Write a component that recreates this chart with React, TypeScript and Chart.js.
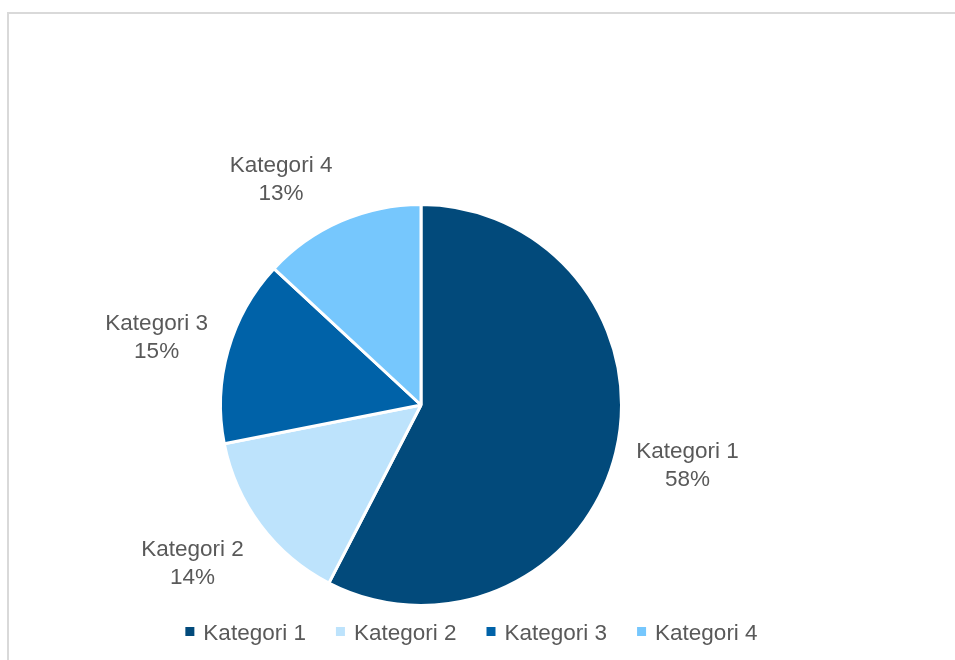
import React, { useEffect, useRef } from "react";
import { Chart, registerables } from "chart.js";

Chart.register(...registerables);

const categories = ["Kategori 1", "Kategori 2", "Kategori 3", "Kategori 4"];
const values = [57.6, 14.3, 15.0, 13.1];
const colors = ["#024a7b", "#bde3fc", "#0062a8", "#76c7fd"];

const FONT = '"Liberation Sans", Arial, Helvetica, sans-serif';
const TEXT = "#595959";
const W = 955;
const H = 660;

const framePlugin = {
  id: "frame",
  beforeDraw(chart: any) {
    const ctx = chart.ctx;
    ctx.save();
    ctx.fillStyle = "#ffffff";
    ctx.fillRect(0, 0, chart.width, chart.height);
    ctx.fillStyle = "#d9d9d9";
    ctx.fillRect(7, 12, chart.width - 7, 2);
    ctx.fillRect(7, 12, 2, chart.height - 12);
    ctx.restore();
  },
};

const labelPlugin = {
  id: "pieLabels",
  afterDatasetsDraw(chart: any) {
    const ctx = chart.ctx;
    const meta = chart.getDatasetMeta(0);
    const data: number[] = chart.data.datasets[0].data;
    const total = data.reduce((a, b) => a + b, 0);
    ctx.save();
    ctx.font = `22.5px ${FONT}`;
    ctx.fillStyle = TEXT;
    ctx.textAlign = "center";
    ctx.textBaseline = "alphabetic";
    meta.data.forEach((arc: any, i: number) => {
      const p = arc.getProps(["x", "y", "startAngle", "endAngle", "outerRadius"], true);
      const mid = (p.startAngle + p.endAngle) / 2;
      const dx = Math.cos(mid);
      const dy = Math.sin(mid);
      const r = p.outerRadius + 21;
      const ax = p.x + dx * r;
      const ay = p.y + dy * r;
      const lines = [String(chart.data.labels[i]), Math.round((data[i] / total) * 100) + "%"];
      const w = Math.max(...lines.map((l) => ctx.measureText(l).width));
      const clx = Math.max(-1, Math.min(1, dx / 0.4));
      const fy = Math.max(0, Math.min(1, (Math.abs(dy) - 0.1) / 0.5)) * Math.sign(dy);
      const cx = ax + (clx * w) / 2;
      const cy = ay + fy * 24;
      ctx.fillText(lines[0], cx, cy - 6);
      ctx.fillText(lines[1], cx, cy + 22);
    });
    ctx.restore();
  },
};

const legendPlugin = {
  id: "customLegend",
  afterDraw(chart: any) {
    const ctx = chart.ctx;
    const ds = chart.data.datasets[0];
    const labels: string[] = chart.data.labels;
    ctx.save();
    ctx.font = `22.5px ${FONT}`;
    const box = 9;
    const gap = 9;
    const itemGap = 30;
    const widths = labels.map((l) => box + gap + ctx.measureText(l).width);
    const total = widths.reduce((a, b) => a + b, 0) + itemGap * (labels.length - 1);
    let x = 471.5 - total / 2;
    labels.forEach((l, i) => {
      ctx.fillStyle = ds.backgroundColor[i];
      ctx.fillRect(x, 627, box, box);
      ctx.fillStyle = TEXT;
      ctx.textAlign = "left";
      ctx.textBaseline = "alphabetic";
      ctx.fillText(l, x + box + gap, 640);
      x += widths[i] + itemGap;
    });
    ctx.restore();
  },
};

export default function App() {
  const ref = useRef<HTMLCanvasElement | null>(null);
  useEffect(() => {
    if (!ref.current) return;
    const chart = new Chart(ref.current, {
      type: "pie",
      data: {
        labels: categories,
        datasets: [
          {
            data: values,
            backgroundColor: colors,
            borderColor: "#ffffff",
            borderWidth: 3,
          },
        ],
      },
      options: {
        responsive: false,
        animation: false,
        layout: { padding: { left: 219, right: 332, top: 203, bottom: 53 } },
        plugins: {
          legend: { display: false },
          tooltip: { enabled: false },
        },
      },
      plugins: [framePlugin, labelPlugin, legendPlugin],
    });
    return () => chart.destroy();
  }, []);
  return (
    <div style={{ position: "fixed", left: 0, top: 0, width: W, height: H, background: "#fff" }}>
      <canvas ref={ref} width={W} height={H} style={{ display: "block", width: W, height: H }} />
    </div>
  );
}
